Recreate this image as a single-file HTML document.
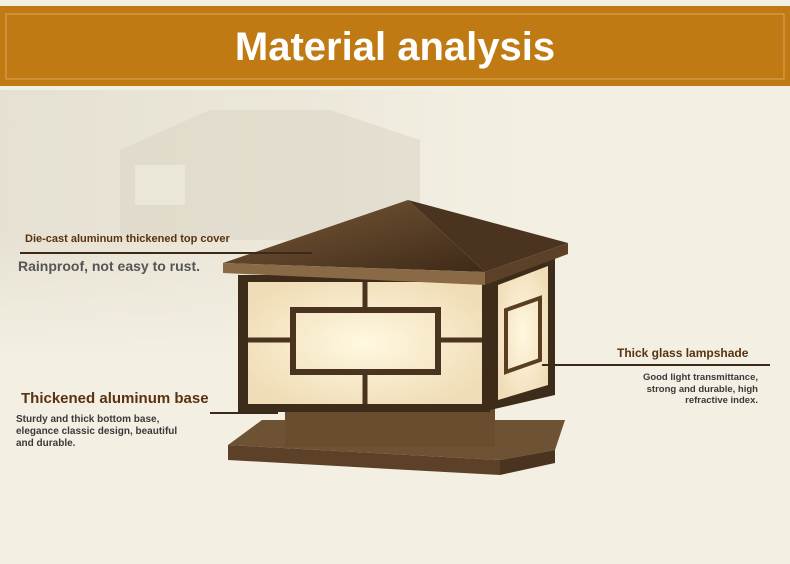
<!DOCTYPE html>
<html><head><style>
body{margin:0;width:790px;height:564px;overflow:hidden;background:#f3efe2;font-family:"Liberation Sans",sans-serif;position:relative}
.t{position:absolute;color:#5a3210;font-weight:bold;white-space:nowrap}
</style></head><body>
<svg width="790" height="564" style="position:absolute;left:0;top:0">
<defs>
<linearGradient id="bg" x1="0" y1="0" x2="1" y2="0"><stop offset="0" stop-color="#dcd7c7"/><stop offset="0.6" stop-color="#e8e3d5"/><stop offset="1" stop-color="#f3efe2" stop-opacity="0"/></linearGradient>
<linearGradient id="bgv" x1="0" y1="0" x2="0" y2="1"><stop offset="0" stop-color="#f3efe2" stop-opacity="0"/><stop offset="1" stop-color="#f3efe2"/></linearGradient>
<radialGradient id="gl" cx="0.5" cy="0.5" r="0.6"><stop offset="0" stop-color="#fff8e0"/><stop offset="1" stop-color="#f0dcb6"/></radialGradient>
<linearGradient id="br" x1="0" y1="0" x2="1" y2="1"><stop offset="0" stop-color="#7a5a38"/><stop offset="1" stop-color="#3e2a18"/></linearGradient>
</defs>
<rect x="0" y="6" width="790" height="80" fill="#c07a14"/>
<rect x="6" y="14" width="778" height="65" fill="none" stroke="#dca75a" stroke-width="1"/>
<rect x="0" y="90" width="560" height="260" fill="url(#bg)" opacity="0.6"/>
<polygon points="120,150 210,110 330,110 420,140 420,240 120,240" fill="#d6d1c2" opacity="0.45"/>
<rect x="135" y="165" width="50" height="40" fill="#f0ece0" opacity="0.6"/>
<rect x="0" y="230" width="560" height="130" fill="url(#bgv)"/>
<polygon points="228,445 262,420 565,420 555,450 500,460" fill="#6e5234"/>
<polygon points="228,445 500,460 500,475 228,460" fill="#5c4128"/>
<polygon points="500,460 555,450 555,463 500,475" fill="#4a3420"/>
<rect x="285" y="405" width="210" height="42" fill="#6a4c2e"/>
<polygon points="490,282 555,258 555,395 490,410" fill="#3e2c1a"/>
<polygon points="498,285 548,266 548,385 498,400" fill="url(#gl)"/>
<polygon points="506,310 540,298 540,360 506,372" fill="none" stroke="#5a3e22" stroke-width="4"/>
<rect x="238" y="275" width="252" height="137" fill="#3e2c1a"/>
<rect x="248" y="282" width="234" height="122" fill="url(#gl)"/>
<rect x="293" y="310" width="145" height="62" fill="none" stroke="#4a3420" stroke-width="6"/>
<line x1="248" y1="340" x2="293" y2="340" stroke="#4a3420" stroke-width="5"/>
<line x1="438" y1="340" x2="482" y2="340" stroke="#4a3420" stroke-width="5"/>
<line x1="365" y1="282" x2="365" y2="310" stroke="#4a3420" stroke-width="5"/>
<line x1="365" y1="372" x2="365" y2="404" stroke="#4a3420" stroke-width="5"/>
<polygon points="408,200 223,263 485,272" fill="url(#br)"/>
<polygon points="408,200 568,243 485,272" fill="#4a3420"/>
<polygon points="223,263 485,272 485,285 223,273" fill="#8a6a46"/>
<polygon points="485,272 568,243 568,254 485,285" fill="#5c4128"/>
<line x1="20" y1="253" x2="312" y2="253" stroke="#3a2a1a" stroke-width="2"/>
<line x1="210" y1="413" x2="278" y2="413" stroke="#3a2a1a" stroke-width="2"/>
<line x1="542" y1="365" x2="770" y2="365" stroke="#3a2a1a" stroke-width="2"/>
</svg>
<div class="t" style="left:0;width:790px;top:25px;text-align:center;color:#fff;font-size:40px">Material analysis</div>
<div class="t" style="left:25px;top:233px;font-size:11px">Die-cast aluminum thickened top cover</div>
<div class="t" style="left:18px;top:258px;font-size:14px;color:#555">Rainproof, not easy to rust.</div>
<div class="t" style="left:21px;top:390px;font-size:15px">Thickened aluminum base</div>
<div class="t" style="left:16px;top:414px;font-size:10px;color:#3a3a3a;line-height:12px">Sturdy and thick bottom base,<br>elegance classic design, beautiful<br>and durable.</div>
<div class="t" style="left:617px;top:346px;font-size:12px">Thick glass lampshade</div>
<div class="t" style="left:600px;width:158px;top:372px;font-size:9.5px;color:#3a3a3a;text-align:right;line-height:11.5px">Good light transmittance,<br>strong and durable, high<br>refractive index.</div>
</body></html>
